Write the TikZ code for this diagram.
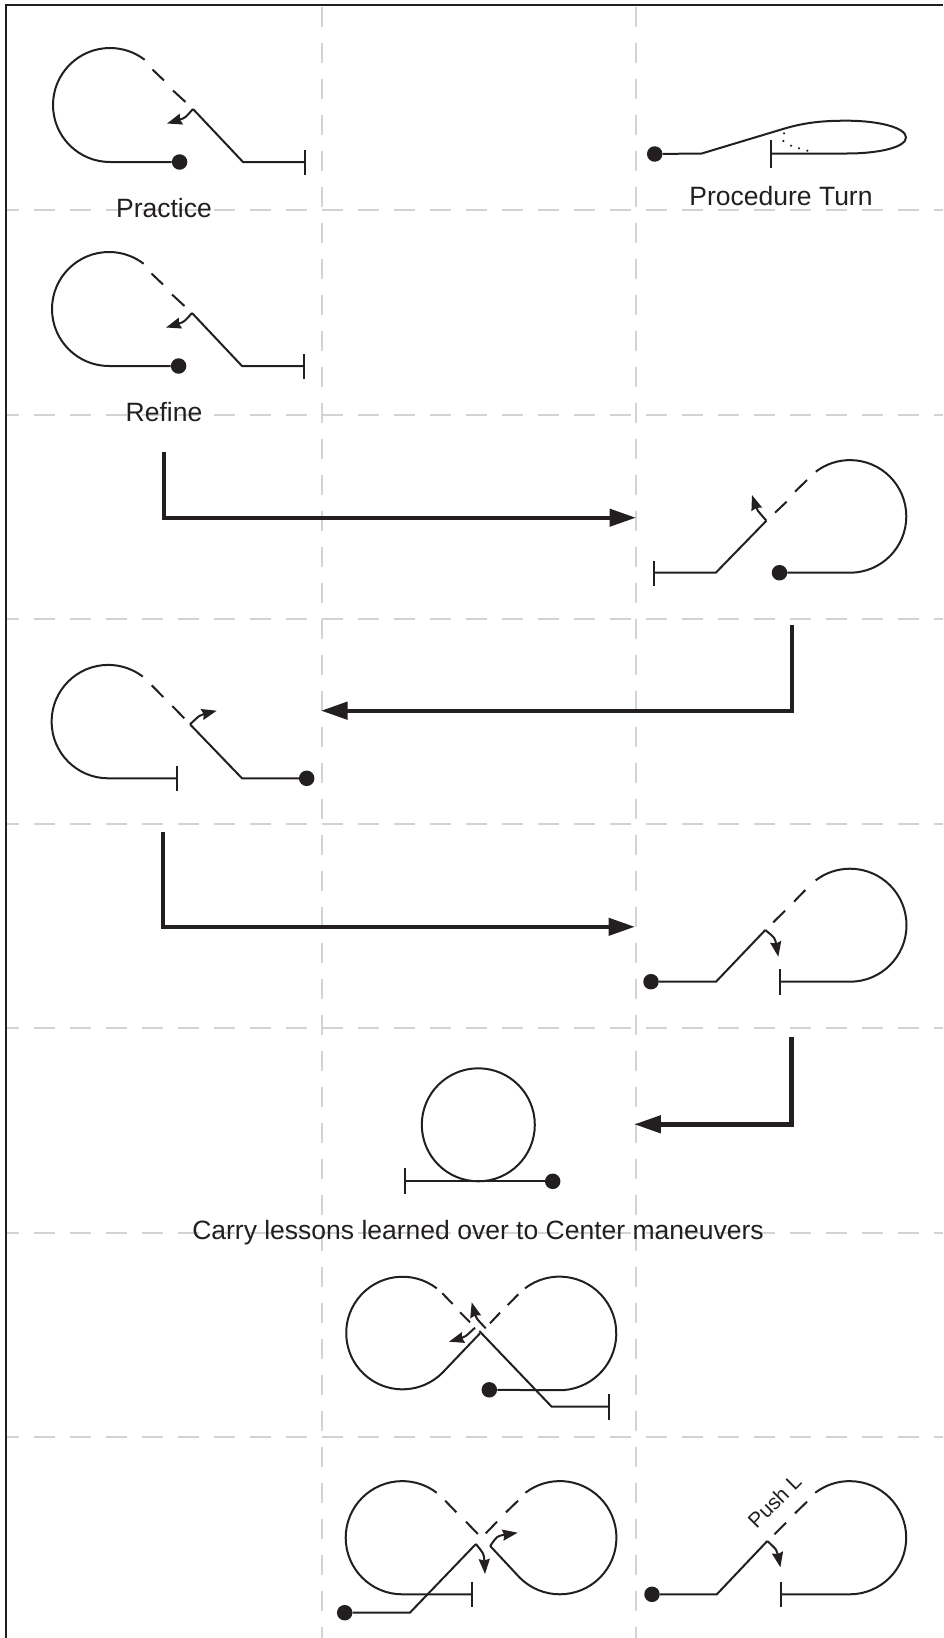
\documentclass[tikz,border=0pt]{standalone}
\usepackage{fontspec}
\setmainfont{Liberation Sans}
\usetikzlibrary{arrows.meta}
\definecolor{ink}{HTML}{231F20}
\definecolor{grid}{HTML}{D2D3D4}
\tikzset{
  ln/.style={draw=ink,line width=2pt,line join=miter},
  arr/.style={ln,-{Stealth[length=15pt,width=11pt,inset=1.5pt]}},
  big/.style={draw=ink,line width=4.4pt,line join=miter,-{Triangle[length=26.5pt,width=17pt]}},
  dot/.style={circle,fill=ink,inner sep=0pt,minimum size=15.5pt},
  lab/.style={anchor=base,text=ink,inner sep=0pt,font=\fontsize{26.5}{30}\selectfont},
  gh/.style={draw=grid,line width=2pt,dash pattern=on 21pt off 15pt,dash phase=9pt},
  gv/.style={draw=grid,line width=2pt,dash pattern=on 20pt off 16pt},
}
\begin{document}
\begin{tikzpicture}[x=1pt,y=-1pt]
\useasboundingbox[fill=white] (0,0) rectangle (943,1638);
% grid
\foreach \yy in {210,414.5,619,823.5,1028,1232.5,1437}{\draw[gh] (7,\yy) -- (943,\yy);}
\foreach \xx in {322,636}{\draw[gv] (\xx,7) -- (\xx,1638);}
% frame
\draw[draw=ink,line width=2pt,line join=miter] (6,1638) -- (6,5) -- (943,5);

% Practice
\node[dot] (d1) at (179.6,162) {};
\coordinate (t1) at (305,162);
\draw[ln] (d1) -- (110,162) arc[start angle=-270,end angle=-52.6,radius=57];
\draw[ln] (152.5,69.5) -- (164,80.5) (173,90.5) -- (185.5,102);
\draw[ln] (193,109) -- (243,162) -- (t1);
\draw[ln] (305,150) -- (305,175);
\draw[arr] (193,109) .. controls (185,118) .. (167,123.5);
\node[lab] (practice) at (164,217) {Practice};

% Procedure Turn
\node[dot] (d2) at (654.7,154) {};
\coordinate (t2) at (770.7,153.5);
\draw[ln] (d2) -- (701.7,153.5) -- (783,129) .. controls (806,122) and (825,120.7) .. (846.7,120.7)
  .. controls (880,120.7) and (906,128) .. (906,137.5)
  .. controls (906,147) and (880,153.5) .. (846.7,153.5) -- (t2);
\draw[ln] (770.7,140) -- (770.7,167.7);
\foreach \dx/\dy in {784/133.3,783.3/141,791/145.7,799/148.3,807.3/150.7}{\fill[ink] (\dx,\dy) circle[radius=1.2pt];}
\node[lab] (proc) at (781,205.5) {Procedure Turn};

% Refine
\node[dot] (d3) at (178.6,366) {};
\coordinate (t3) at (304,366);
\draw[ln] (d3) -- (109,366) arc[start angle=-270,end angle=-52.6,radius=57];
\draw[ln] (151.5,273.5) -- (163,284.5) (172,294.5) -- (184.5,306);
\draw[ln] (192,313) -- (242,366) -- (t3);
\draw[ln] (304,354) -- (304,379);
\draw[arr] (192,313) .. controls (184,322) .. (166,327.5);
\node[lab] (refine) at (164,421.5) {Refine};

% Arrow 1 and figure row 3
\coordinate (a1s) at (163.7,451.7);
\coordinate (a1e) at (636,517.7);
\draw[big] (a1s) |- (a1e);
\node[dot] (d4) at (779.5,572.7) {};
\coordinate (t4) at (653.5,572.7);
\draw[ln] (d4) -- (850,572.7) arc[start angle=90,end angle=-127.4,radius=56.3];
\draw[ln] (775,512.7) -- (786.6,501.7) (795,491.7) -- (807,480);
\draw[ln] (t4) -- (715.8,572.7) -- (766.4,520.7);
\draw[ln] (653.5,560.7) -- (653.5,585.7);
\draw[arr] (766.4,520.7) .. controls (757,510) .. (752,495);

% Arrow 2 and figure row 4
\coordinate (a2s) at (791.7,625);
\coordinate (a2e) at (321,710.7);
\draw[big] (a2s) |- (a2e);
\node[dot] (d5) at (306.7,778.3) {};
\coordinate (t5) at (177.3,778.3);
\draw[ln] (t5) -- (108.3,778.3) arc[start angle=-270,end angle=-52.6,radius=56.7];
\draw[ln] (151.7,685.3) -- (163.3,697) (172.3,706) -- (184.3,718.3);
\draw[ln] (190,724.3) -- (242,778.3) -- (d5);
\draw[ln] (177.3,765.7) -- (177.3,791);
\draw[arr] (190,724.3) .. controls (200,715) .. (216.7,710.7);

% Arrow 3 and figure row 5
\coordinate (a3s) at (163,831.5);
\coordinate (a3e) at (635,926.8);
\draw[big] (a3s) |- (a3e);
\node[dot] (d6) at (651,981.7) {};
\coordinate (t6) at (779.7,981.7);
\draw[ln] (t6) -- (850,981.7) arc[start angle=90,end angle=-127.4,radius=56.5];
\draw[ln] (773.3,922.3) -- (785,910.7) (794,901.7) -- (805.3,890);
\draw[ln] (d6) -- (716,981.7) -- (765.3,930);
\draw[ln] (779.7,969) -- (779.7,995);
\draw[arr] (765.3,930) .. controls (775,938) .. (778.3,956.7);

% Arrow 4 and circle
\coordinate (a4s) at (791.5,1037.3);
\coordinate (a4e) at (634.3,1124.3);
\draw[big] (a4s) |- (a4e);
\node[dot] (d7) at (552.7,1181.3) {};
\coordinate (t7) at (405,1181.3);
\draw[ln] (478.3,1124.8) circle[radius=56.5];
\draw[ln] (t7) -- (d7);
\draw[ln] (405,1168.3) -- (405,1194.3);
\node[lab] (carry) at (478,1239.5) {Carry lessons learned over to Center maneuvers};

% Figure eight row 7
\node[dot] (d8) at (489.3,1389.8) {};
\coordinate (t8) at (608.7,1406.7);
\draw[ln] (436.7,1288.3) arc[start angle=-52.6,end angle=-315,radius=56.3] -- (480,1333.3);
\draw[ln] (442.3,1293.3) -- (452.7,1304) (460,1312.3) -- (470,1322.3);
\draw[ln] (479.3,1331) -- (551.7,1406.7) -- (t8);
\draw[ln] (608.7,1394.3) -- (608.7,1420);
\draw[ln] (525,1288.3) arc[start angle=-127.4,end angle=90,radius=56.8] -- (d8);
\draw[ln] (518.3,1294.3) -- (507.7,1305) (500,1312.7) -- (490,1323.3);
\draw[arr] (485.7,1328.3) .. controls (476,1318) .. (471.7,1302.3);
\draw[arr] (475,1327.7) .. controls (465,1337) .. (449,1341.7);

% Figure eight row 8
\node[dot] (d9) at (344.7,1612.7) {};
\coordinate (t9) at (471.5,1594.3);
\draw[ln] (t9) -- (402.3,1594.3) arc[start angle=-270,end angle=-52.6,radius=56.6];
\draw[ln] (445.2,1500.7) -- (456.4,1512.3) (466,1521.7) -- (477.9,1534);
\draw[ln] (471.5,1581.7) -- (471.5,1607.3);
\draw[ln] (490.2,1546) -- (519.8,1577.7) arc[start angle=135,end angle=-127.4,radius=56.6];
\draw[ln] (518,1500.7) -- (506,1512.3) (497,1521.7) -- (485.8,1533.3);
\draw[ln] (d9) -- (409.9,1612.7) -- (475.9,1544);
\draw[arr] (475.9,1544) .. controls (484,1554) .. (485,1574);
\draw[arr] (490.2,1546) .. controls (497,1536) .. (517.6,1532.7);

% Figure row 8 right
\node[dot] (d10) at (652,1594.3) {};
\coordinate (t10) at (781.2,1594.3);
\draw[ln] (t10) -- (849.6,1594.3) arc[start angle=90,end angle=-127.4,radius=56.6];
\draw[ln] (774.5,1534.3) -- (786,1522.7) (795,1513.3) -- (807,1501.7);
\draw[ln] (d10) -- (716.8,1594.3) -- (767.3,1541);
\draw[ln] (781.2,1581.7) -- (781.2,1607.3);
\draw[arr] (767.3,1541) .. controls (777,1550) .. (780.4,1567.3);
\node[text=ink,inner sep=0pt,font=\fontsize{21}{25}\selectfont,rotate=45] (push) at (774.4,1501.3) {Push L};
\end{tikzpicture}
\end{document}
